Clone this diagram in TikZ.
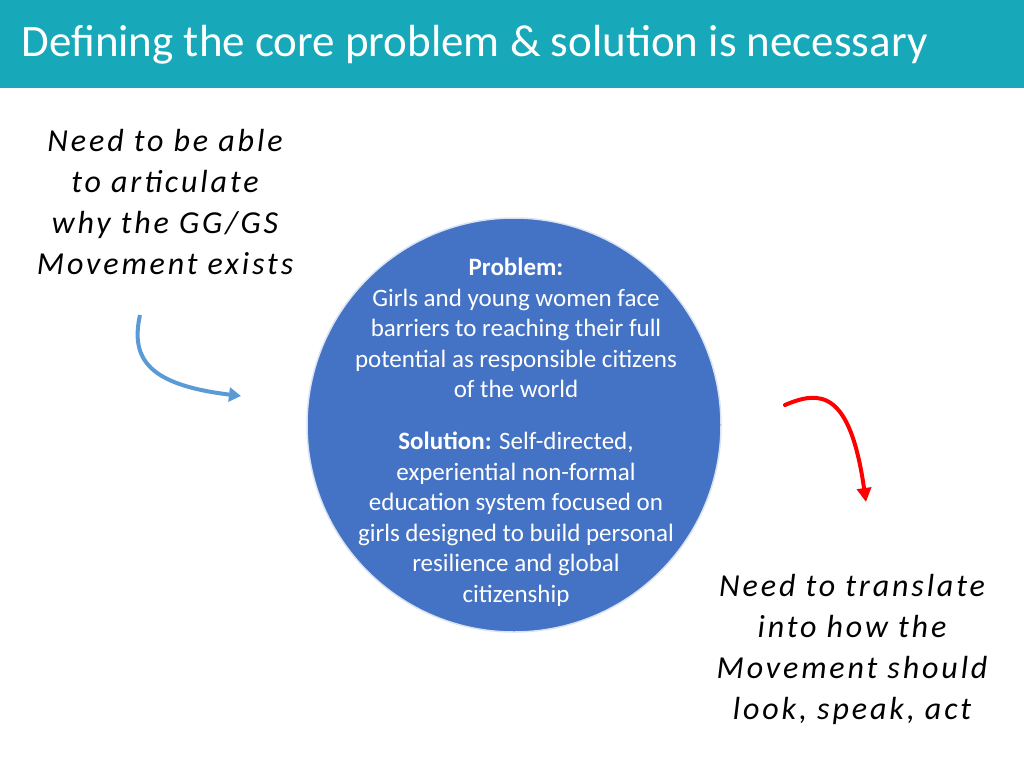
\documentclass[tikz,border=0pt]{standalone}
\usepackage{fontspec}
\setmainfont{Carlito}
\newfontfamily\hand{Carlito}[LetterSpace=9]
\usetikzlibrary{arrows.meta}
\definecolor{teal}{HTML}{17A9B9}
\definecolor{cblue}{HTML}{4472C4}
\definecolor{ablue}{HTML}{5B9BD5}
\tikzset{handtxt/.style={align=center,font=\hand\fontsize{32}{41}\selectfont\itshape},
 ctxt/.style={text=white,align=center,font=\fontsize{25}{30.5}\selectfont}}
\begin{document}
\begin{tikzpicture}[x=1pt,y=-1pt]
\useasboundingbox (0,0) rectangle (1024,768);
\fill[teal] (0,0) rectangle (1024,88);
\node[anchor=west,text=white,font=\fontsize{45}{50}\selectfont] (title) at (18,45) {Defining the core problem \& solution is necessary};
\node[circle,fill=cblue,draw=white!80!cblue,line width=1.5pt,minimum size=414pt] (c) at (514,425) {};
\node[ctxt] (prob) at (516,328) {\textbf{Problem:}\\Girls and young women face\\barriers to reaching their full\\potential as responsible citizens\\of the world};
\node[ctxt] (sol) at (516,519) {\textbf{Solution:} Self-directed,\\experiential non-formal\\education system focused on\\girls designed to build personal\\resilience and global\\citizenship};
\node[handtxt] (left) at (165,202) {Need to be able\\to articulate\\why the GG/GS\\Movement exists};
\node[handtxt] (right) at (852,649) {Need to translate\\into how the\\Movement should\\look, speak, act};
\coordinate (a1) at (140,315); \coordinate (a2) at (241,396);
\draw[ablue,line width=4pt,-{Triangle[length=12pt,width=14pt]}] (a1) .. controls (130,360) and (150,385) .. (a2);
\coordinate (b1) at (785,405); \coordinate (b2) at (866,502);
\draw[red,line width=4pt,line cap=round,-{Triangle[length=14pt,width=14pt]}] (b1) .. controls (820,390) and (850,390) .. (b2);
\end{tikzpicture}
\end{document}
